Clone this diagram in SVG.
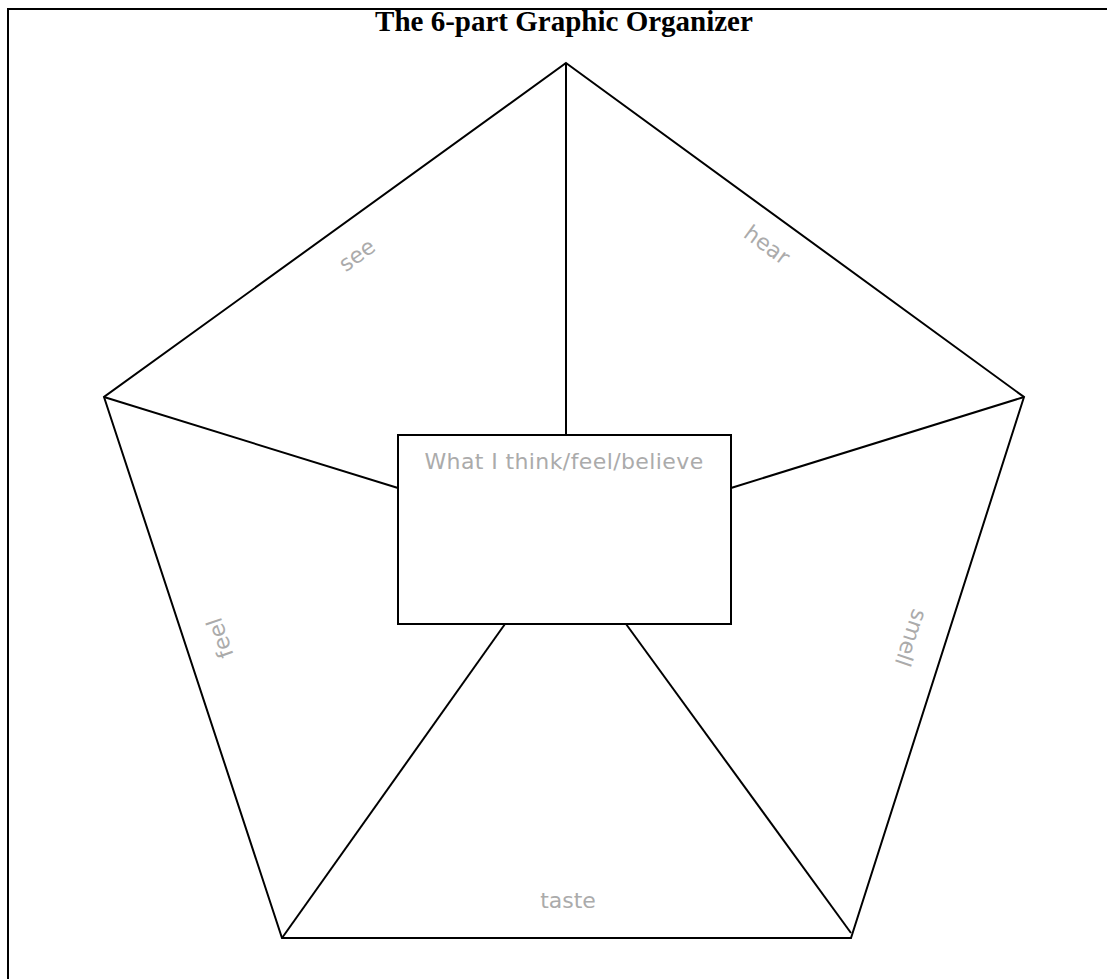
<svg xmlns="http://www.w3.org/2000/svg" width="1107" height="979" viewBox="0 0 1107 979">
<style>
.ln{stroke:#000;stroke-width:2;fill:none;stroke-linejoin:miter}
.lbl{font-family:"DejaVu Sans","Liberation Sans",sans-serif;font-size:22px;fill:#ababab;text-anchor:middle;dominant-baseline:central}
.title{font-family:"Liberation Serif",serif;font-weight:bold;font-size:29px;fill:#000;text-anchor:middle}
</style>
<rect width="1107" height="979" fill="#fff"/>
<path class="ln" d="M8,979 V9 H1107" stroke-width="2.5"/>
<text class="title" x="564" y="31">The 6-part Graphic Organizer</text>
<g id="connectors">
<path class="ln" d="M566,63 L1024,397 L851,938 L282,938 L104,397 Z"/>
<path class="ln" d="M566,63 V435"/>
<path class="ln" d="M104,397 L398,488"/>
<path class="ln" d="M1024,397 L731,488"/>
<path class="ln" d="M505,624 L282,938"/>
<path class="ln" d="M626,624 L851,933"/>
</g>
<g id="center">
<rect class="ln" x="398" y="435" width="333" height="189" fill="#fff"/>
<text class="lbl" x="564" y="461" font-size="26" letter-spacing="0.4">What I think/feel/believe</text>
</g>
<g id="see"><text class="lbl" transform="translate(357,255) rotate(-36)">see</text></g>
<g id="hear"><text class="lbl" transform="translate(767,245) rotate(36)">hear</text></g>
<g id="feel"><text class="lbl" transform="translate(220,638) rotate(-109)">feel</text></g>
<g id="smell"><text class="lbl" transform="translate(911,638) rotate(108.6)">smell</text></g>
<g id="taste"><text class="lbl" x="568" y="900">taste</text></g>
</svg>
